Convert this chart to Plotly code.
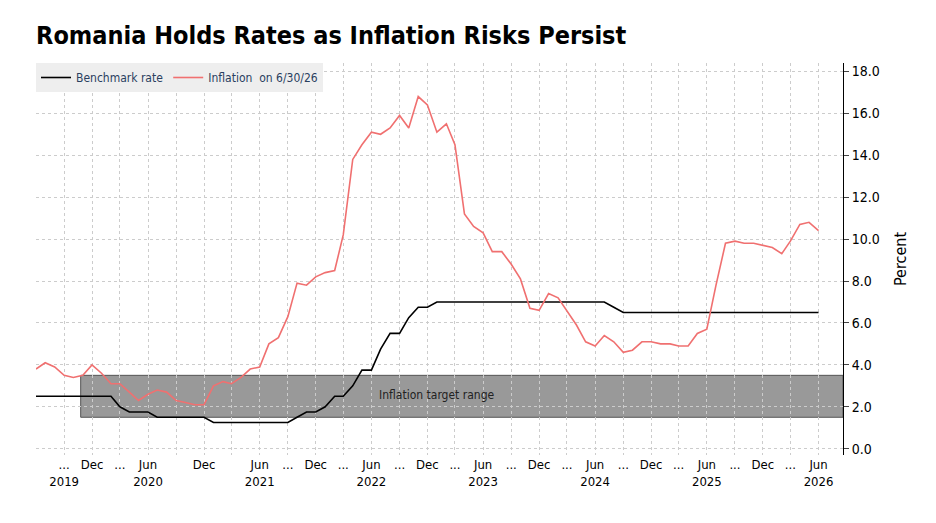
import pandas as pd
import plotly.graph_objects as go

months = pd.date_range("2019-06-01", "2026-06-01", freq="MS")

inflation = [3.8, 4.1, 3.9, 3.5, 3.4, 3.5, 4.0,
             3.6, 3.1, 3.1, 2.7, 2.3, 2.6, 2.8, 2.7, 2.3, 2.2, 2.1, 2.1,
             3.0, 3.2, 3.1, 3.4, 3.8, 3.9, 5.0, 5.3, 6.3, 7.9, 7.8, 8.2,
             8.4, 8.5, 10.2, 13.8, 14.5, 15.1, 15.0, 15.3, 15.9, 15.3, 16.8, 16.4,
             15.1, 15.5, 14.5, 11.2, 10.6, 10.3, 9.4, 9.4, 8.8, 8.1, 6.7, 6.6,
             7.4, 7.2, 6.6, 5.9, 5.1, 4.9, 5.4, 5.1, 4.6, 4.7, 5.1, 5.1,
             5.0, 5.0, 4.9, 4.9, 5.5, 5.7, 7.8, 9.8, 9.9, 9.8, 9.8, 9.7,
             9.6, 9.3, 9.9, 10.7, 10.8, 10.4]

benchmark = [2.5, 2.5, 2.5, 2.5, 2.5, 2.5, 2.5,
             2.5, 2.5, 2.0, 1.75, 1.75, 1.75, 1.5, 1.5, 1.5, 1.5, 1.5, 1.5,
             1.25, 1.25, 1.25, 1.25, 1.25, 1.25, 1.25, 1.25, 1.25, 1.5, 1.75, 1.75,
             2.0, 2.5, 2.5, 3.0, 3.75, 3.75, 4.75, 5.5, 5.5, 6.25, 6.75, 6.75,
             7.0, 7.0, 7.0, 7.0, 7.0, 7.0, 7.0, 7.0, 7.0, 7.0, 7.0, 7.0,
             7.0, 7.0, 7.0, 7.0, 7.0, 7.0, 7.0, 6.75, 6.5, 6.5, 6.5, 6.5,
             6.5, 6.5, 6.5, 6.5, 6.5, 6.5, 6.5, 6.5, 6.5, 6.5, 6.5, 6.5,
             6.5, 6.5, 6.5, 6.5, 6.5, 6.5]

target_low, target_high = 1.5, 3.5

tick_dates = pd.date_range("2019-09-01", "2026-06-01", freq="3MS")
tick_text = ["...<br>2019", "Dec", "...", "Jun<br>2020", "", "Dec", "", "Jun<br>2021",
             "...", "Dec", "...", "Jun<br>2022", "...", "Dec", "...", "Jun<br>2023",
             "...", "Dec", "...", "Jun<br>2024", "...", "Dec", "...", "Jun<br>2025",
             "...", "Dec", "...", "Jun<br>2026"]

font = "DejaVu Sans Condensed, Liberation Sans Narrow, Arial"

fig = go.Figure()
fig.add_shape(type="rect", xref="x", yref="y", x0="2019-10-25", x1="2026-08-20",
              y0=target_low, y1=target_high, fillcolor="#999999",
              line=dict(color="#555555", width=1), layer="below")
fig.add_annotation(x="2023-01-01", y=2.55, text="Inflation target range", showarrow=False,
                   font=dict(size=12, color="#222222", family=font))
fig.add_trace(go.Scatter(x=months, y=benchmark, mode="lines", name="Benchmark rate",
                         line=dict(color="black", width=1.6)))
fig.add_trace(go.Scatter(x=months, y=inflation, mode="lines", name="Inflation  on 6/30/26",
                         line=dict(color="#f07070", width=1.6)))

fig.update_layout(
    width=936, height=523, plot_bgcolor="white", paper_bgcolor="white",
    margin=dict(l=28, r=101, t=55, b=76),
    title=dict(text="<b>Romania Holds Rates as Inflation Risks Persist</b>", x=0.03, y=0.965,
               font=dict(size=25, family="DejaVu Sans Condensed, Arial", color="black")),
    legend=dict(orientation="h", x=0.0, y=1.0, xanchor="left", yanchor="top",
                bgcolor="#eeeeee", font=dict(size=12, family=font), itemwidth=30,
                traceorder="normal"),
    showlegend=True,
    xaxis=dict(range=["2019-06-01", "2026-08-20"], tickvals=tick_dates, ticktext=tick_text,
               tickangle=0, showgrid=True, gridcolor="#cccccc", griddash="dot", ticks="",
               zeroline=False, tickfont=dict(size=13, family=font, color="black"),
               showline=False),
    yaxis=dict(side="right", range=[-0.3, 18.4], dtick=2, tickformat=".1f",
               showgrid=True, gridcolor="#cccccc", griddash="dot", zeroline=False,
               showline=True, linecolor="black", ticks="outside", ticklen=5,
               tickfont=dict(size=14, family=font, color="black"),
               title=dict(text="Percent", font=dict(size=16, family=font, color="black"))),
)
fig.add_annotation(xref="paper", yref="paper", x=-0.005, y=-0.175, xanchor="left", yanchor="top",
                   text="<b>Source: National Bank of Romania, statistics office</b>",
                   showarrow=False, font=dict(size=12, family=font, color="black"))
fig.add_annotation(xref="paper", yref="paper", x=1.09, y=-0.17, xanchor="right", yanchor="top",
                   text="<b>Bloomberg</b>", showarrow=False,
                   font=dict(size=15, family=font, color="black"))
fig.write_html("out.html")
